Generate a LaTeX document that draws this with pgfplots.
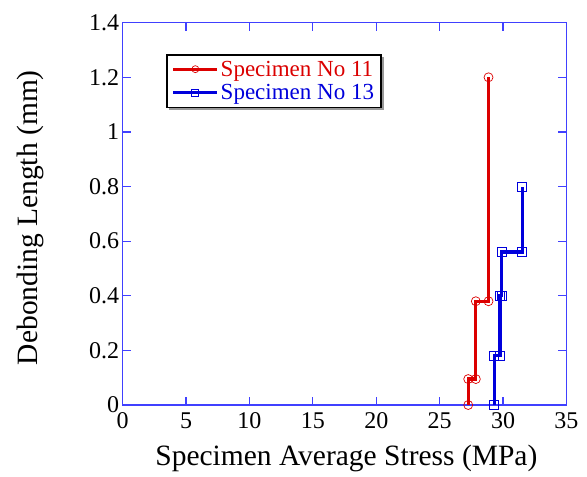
\documentclass[border=0pt]{standalone}
\usepackage{pgfplots}
\pgfplotsset{compat=1.18}
\usepackage{fontspec}
\setmainfont{Liberation Serif}
\usetikzlibrary{shadows}
\makeatletter
\tikzset{no preactions/.code={\let\tikz@preactions\pgfutil@empty}}
\makeatother
\begin{document}
\begin{tikzpicture}
\useasboundingbox (-122.7pt,-72pt) rectangle (464.3pt,405pt);
\begin{axis}[
  scale only axis,
  width=443.8pt, height=382.3pt,
  xmin=0, xmax=35, ymin=0, ymax=1.4,
  xtick={0,5,...,35},
  ytick={0,0.2,0.4,0.6,0.8,1,1.2,1.4},
  yticklabels={0,0.2,0.4,0.6,0.8,1,1.2,1.4},
  tick align=inside,
  major tick length=8pt,
  axis line style={blue!75, line width=1.2pt},
  every tick/.style={blue!75, line width=1.2pt},
  /pgf/number format/assume math mode=true,
  tick label style={font=\fontsize{24}{27}\selectfont, black},
  xticklabel style={yshift=-4pt},
  xlabel={Specimen Average Stress (MPa)},
  ylabel={Debonding Length (mm)},
  label style={font=\fontsize{29.5}{33}\selectfont},
  xlabel style={at={(axis description cs:0.504,-0.157)}, anchor=base},
  ylabel style={at={(axis description cs:-0.193,0.49)}, anchor=base, rotate=0},
  legend style={at={(0.098,0.918)}, anchor=north west, draw=black, line width=1.5pt,
    drop shadow={shadow xshift=2.5pt, shadow yshift=-2.5pt, fill=black!80},
    font=\fontsize{23}{26}\selectfont, inner xsep=5pt, inner ysep=4pt, row sep=3pt},
  legend cell align=left,
  legend image code/.code={
    \draw[no preactions, #1, line width=2.8pt] (0pt,0pt) -- (44pt,0pt);
    \draw[no preactions, #1, mark size=3.5pt, line width=0.6pt] plot coordinates {(22pt,0pt)};
  },
  clip=false,
]
\addplot[color={rgb,255:red,220;green,0;blue,0}, line width=3.2pt, mark=o, mark size=4.5pt,
  mark options={line width=0.7pt, fill=none}] coordinates {
  (27.25,0) (27.25,0.095) (27.85,0.095) (27.85,0.38) (28.85,0.38) (28.85,1.2)
};
\addlegendentry{\textcolor[rgb]{0.86,0,0}{Specimen No 11}}
\addplot[color={rgb,255:red,0;green,0;blue,220}, line width=3.2pt, mark=square, mark size=4.5pt,
  mark options={line width=0.7pt}] coordinates {
  (29.3,0) (29.3,0.18) (29.75,0.18) (29.75,0.40) (29.9,0.40) (29.9,0.56) (31.5,0.56) (31.5,0.80)
};
\addlegendentry{\textcolor[rgb]{0,0,0.86}{Specimen No 13}}
\end{axis}
\end{tikzpicture}
\end{document}
